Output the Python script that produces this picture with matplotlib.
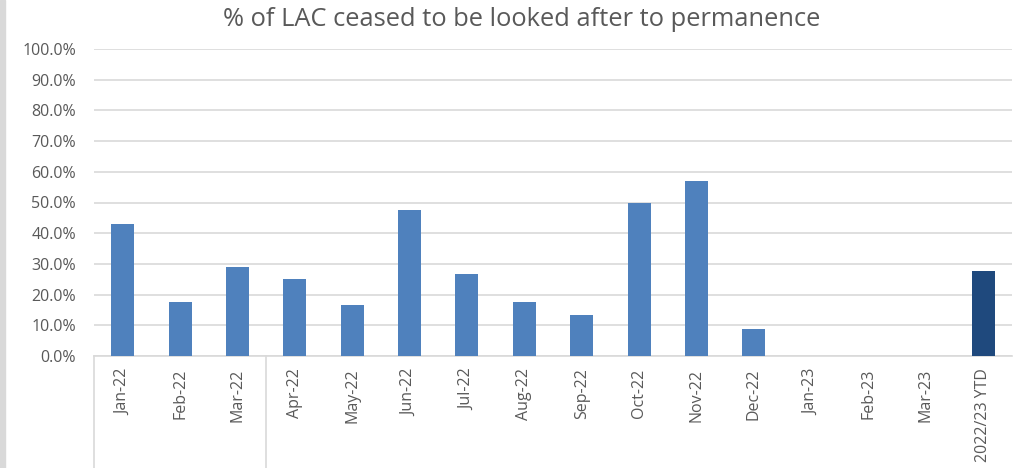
import matplotlib.pyplot as plt
from matplotlib.patches import Rectangle
from matplotlib.lines import Line2D

plt.rcParams['font.family'] = ['Open Sans', 'DejaVu Sans']

months = ["Jan-22", "Feb-22", "Mar-22", "Apr-22", "May-22", "Jun-22", "Jul-22", "Aug-22",
          "Sep-22", "Oct-22", "Nov-22", "Dec-22", "Jan-23", "Feb-23", "Mar-23", "2022/23 YTD"]
values = [42.9, 17.6, 29.0, 25.0, 16.7, 47.6, 26.7, 17.6,
          13.3, 50.0, 57.1, 8.7, 0, 0, 0, 27.6]
ytd_label = "2022/23 YTD"

blue = "#4F81BD"
dark = "#1F497D"
grey = "#595959"
grid = "#D9D9D9"

fig = plt.figure(figsize=(10.29, 4.68), dpi=100)
ax = fig.add_axes([94/1029, 1-356/468, (1012-94)/1029, (356-49)/468])

x = list(range(len(months)))
colors = [dark if m == ytd_label else blue for m in months]
ax.bar(x, values, width=0.4, color=colors, zorder=3)

ax.set_xlim(-0.5, len(months) - 0.5)
ax.set_ylim(0, 100)
ax.set_yticks(range(0, 101, 10))
ax.set_yticklabels([f"{v:.1f}%" for v in range(0, 101, 10)])
ax.yaxis.grid(True, color=grid, linewidth=1.2, zorder=0)
ax.set_xticks(x)
ax.set_xticklabels(months, rotation=90, va="top")
ax.tick_params(axis="y", length=0, pad=13, labelsize=11.5, labelcolor=grey)
ax.tick_params(axis="x", length=0, pad=9, labelsize=11.5, labelcolor=grey)
for s in ["top", "right", "left"]:
    ax.spines[s].set_visible(False)
ax.spines["bottom"].set_color(grid)
ax.spines["bottom"].set_linewidth(1.2)

# group separators under the axis
for xs in [-0.5, 2.5]:
    ax.add_line(Line2D([xs, xs], [0, -0.37], transform=ax.get_xaxis_transform(),
                       color=grid, linewidth=1.2, clip_on=False))

fig.text(522/1029, 1-20/468, "% of LAC ceased to be looked after to permanence",
         ha="center", va="center", fontsize=18.4, color=grey)

fig.patches.append(Rectangle((0, 0), 5/1029, 1, transform=fig.transFigure,
                             color=grid, zorder=0))

fig.savefig("out.png", dpi=100)
